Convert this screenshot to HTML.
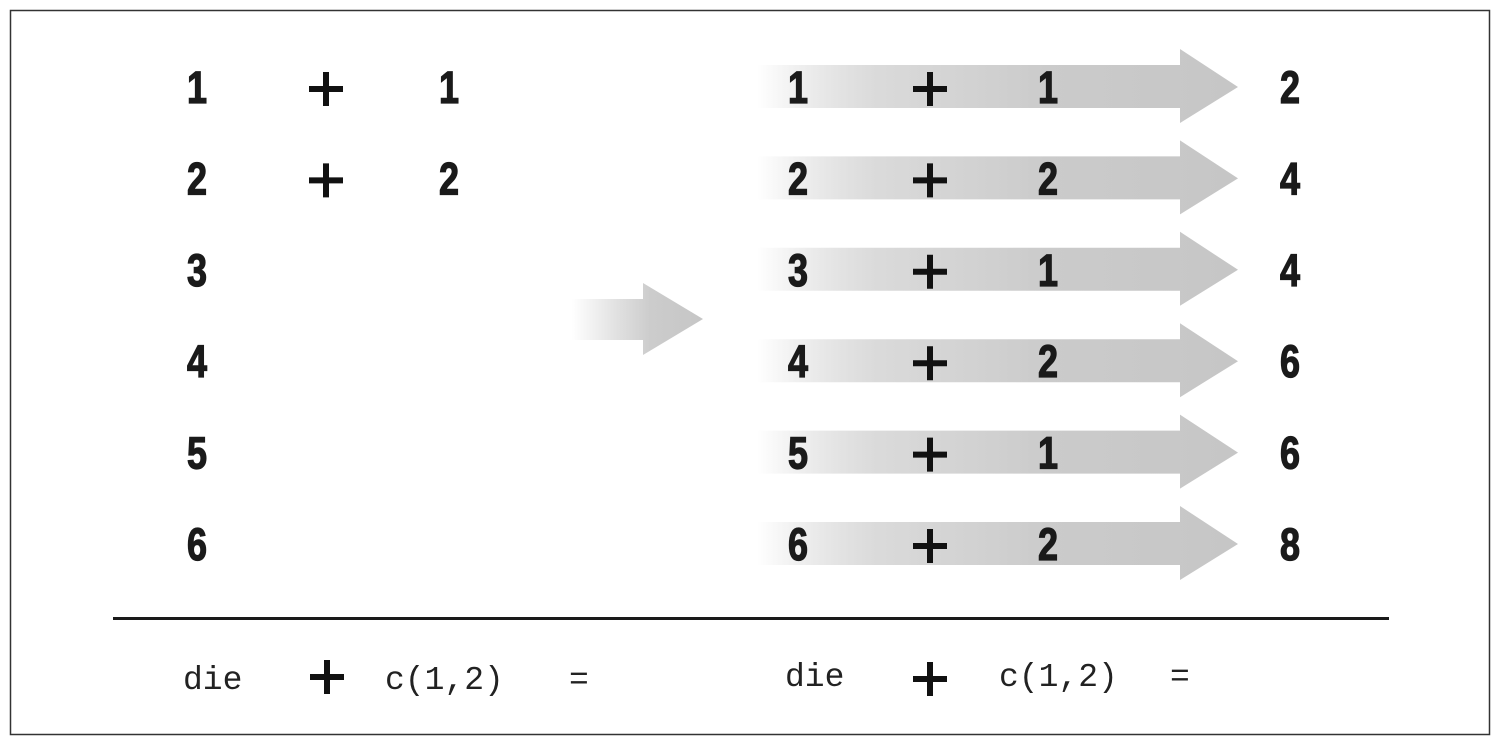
<!DOCTYPE html>
<html><head><meta charset="utf-8"><style>
html,body{margin:0;padding:0;background:#fff;}
svg{display:block;}
.num{font-family:"Liberation Sans",sans-serif;font-weight:bold;font-size:45px;fill:#1a1a1a;stroke:#1a1a1a;stroke-width:1.3;text-anchor:middle;}
.code{font-family:"Liberation Mono",monospace;font-size:33px;fill:#222;}
</style></head><body>
<svg id="chart" width="1500" height="742" xmlns="http://www.w3.org/2000/svg">
<defs>
<linearGradient id="fade" x1="0" x2="1" y1="0" y2="0">
<stop offset="0" stop-color="#c8c8c8" stop-opacity="0"/>
<stop offset="0.25" stop-color="#d6d6d6" stop-opacity="0.9"/>
<stop offset="0.6" stop-color="#cbcbcb"/>
<stop offset="1" stop-color="#c6c6c6"/>
</linearGradient>
<linearGradient id="fade2" x1="0" x2="1" y1="0" y2="0">
<stop offset="0" stop-color="#c8c8c8" stop-opacity="0"/>
<stop offset="0.6" stop-color="#cccccc"/>
<stop offset="1" stop-color="#c6c6c6"/>
</linearGradient>
</defs>
<rect x="10.5" y="10.5" width="1479" height="724" fill="none" stroke="#333" stroke-width="1.5"/>
<g id="rows"></g>
<polygon points="572,299 643,299 643,283 703,319 643,355 643,340 572,340" fill="url(#fade2)"/>
<rect x="113" y="617" width="1276" height="3" fill="#1a1a1a"/>
<g>
<text class="code" x="183" y="689">die</text>
<rect x="310" y="674" width="34" height="6" fill="#111"/><rect x="324" y="660" width="6" height="34" fill="#111"/>
<text class="code" x="385" y="689">c(1,2)</text>
<text class="code" x="569" y="689">=</text>
</g>
<g>
<text class="code" x="785" y="686">die</text>
<rect x="913" y="676" width="34" height="6" fill="#111"/><rect x="927" y="662" width="6" height="34" fill="#111"/>
<text class="code" x="999" y="686">c(1,2)</text>
<text class="code" x="1170" y="686">=</text>
</g>
</svg>
<script>
const dieValues = [1,2,3,4,5,6];
const addValues = [1,2,1,2,1,2];
const sums = [2,4,4,6,6,8];
const leftAddShown = [1,2];
const NS = "http://www.w3.org/2000/svg";
const g = document.getElementById('rows');
function yRow(i){ return 87 + i*91.4; }
function txt(x,y,s,name){
  const t=document.createElementNS(NS,'text');
  t.setAttribute('class','num');t.setAttribute('x',0);t.setAttribute('y',0);t.textContent=s;
  t.setAttribute('transform',`translate(${x},${y+16}) scale(0.8,1)`);
  
  
  g.appendChild(t);
}
function plus(cx,cy,name){
  const p=document.createElementNS(NS,'path');
  p.setAttribute('d',`M${cx-17},${cy-3}h34v6h-34z M${cx-3},${cy-17}h6v34h-6z`);
  p.setAttribute('fill','#111');
  
  
  g.appendChild(p);
}
dieValues.forEach((d,i)=>{
  const y=yRow(i);
  txt(197,y,d,'left-die-value');
  if(i<leftAddShown.length){ plus(326,y+2,'left-plus'); txt(449,y,leftAddShown[i],'left-add-value'); }
  const a=document.createElementNS(NS,'polygon');
  a.setAttribute('points',`757,${y-22} 1180,${y-22} 1180,${y-38} 1238,${y} 1180,${y+36} 1180,${y+21} 757,${y+21}`);
  a.setAttribute('fill','url(#fade)');
  
  
  g.appendChild(a);
  txt(798,y,d,'right-die-value');
  plus(930,y+2,'right-plus');
  txt(1048,y,addValues[i],'right-add-value');
  txt(1290,y,sums[i],'sum-value');
});
</script>
</body></html>
